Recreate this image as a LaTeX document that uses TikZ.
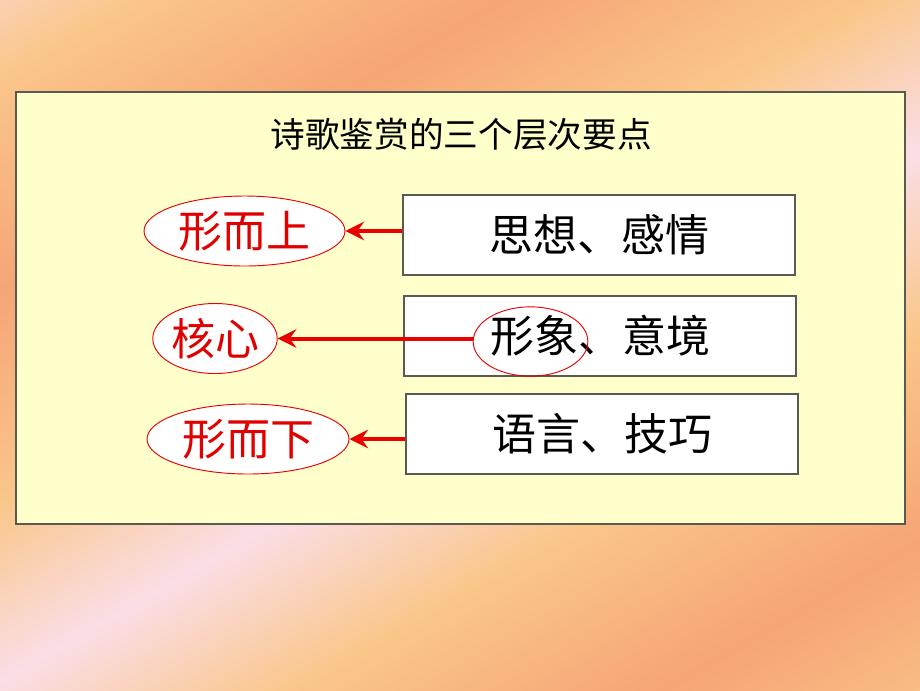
\documentclass[tikz,border=0pt]{standalone}
\usepackage{fontspec}
\newfontfamily\cjk{Noto Sans CJK SC}
\usetikzlibrary{arrows.meta,shapes.geometric}
\definecolor{panelfill}{RGB}{255,255,204}
\definecolor{panelline}{RGB}{90,90,80}
\definecolor{redline}{RGB}{235,0,0}
\definecolor{redtext}{RGB}{225,0,0}
\definecolor{peach}{RGB}{246,165,118}
\definecolor{lorange}{RGB}{250,198,138}
\definecolor{pinkw}{RGB}{250,222,230}
\pgfdeclarehorizontalshading{bgshade}{100bp}{color(0bp)=(pinkw); color(12bp)=(lorange); color(24bp)=(peach); color(36bp)=(lorange); color(46bp)=(pinkw); color(56bp)=(lorange); color(68bp)=(peach); color(80bp)=(lorange); color(90bp)=(pinkw); color(100bp)=(lorange)}
\tikzset{
  levelbox/.style={draw=panelline, line width=0.9pt, fill=white, minimum width=294pt, minimum height=60pt, inner sep=0pt, font=\cjk\fontsize{33}{36}\selectfont},
  levelell/.style={ellipse, draw=redline, line width=0.7pt, fill=white, inner sep=0pt, text=redtext, font=\cjk\fontsize{33}{36}\selectfont},
  ringell/.style={ellipse, draw=redline, line width=0.7pt, inner sep=0pt},
  redarrow/.style={draw=redline, line width=3pt, -{Stealth[length=14pt,width=14pt,inset=5pt]}},
  titletext/.style={font=\cjk\fontsize{26}{30}\selectfont, inner sep=0pt}
}
\begin{document}
\begin{tikzpicture}[x=0.75pt,y=-0.75pt]
\useasboundingbox (0,0) rectangle (920,690);
\shade[shading=bgshade, shading angle=120] (0,0) rectangle (920,690);
\node[draw=panelline, line width=0.9pt, fill=panelfill, minimum width=666.75pt, minimum height=324pt, inner sep=0pt] (panel) at (460.5,308) {};
\node[titletext] (title) at (461,134) {诗歌鉴赏的三个层次要点};
\node[levelbox] (b1) at (599,235) {\raisebox{-3pt}{思想、感情}};
\node[levelbox] (b2) at (600,336) {\raisebox{-3pt}{形象、意境}};
\node[levelbox] (b3) at (602,434) {\raisebox{-3pt}{语言、技巧}};
\node[levelell, minimum width=150.75pt, minimum height=52.5pt] (e1) at (244.5,231) {形而上};
\node[levelell, minimum width=93pt, minimum height=52.5pt] (e2) at (215,338.5) {核心};
\node[levelell, minimum width=151.5pt, minimum height=52.5pt] (e3) at (248,439) {形而下};
\node[ringell, minimum width=86pt, minimum height=52pt] (r2) at (530.5,341.5) {};
\draw[redarrow] (b1.west |- e1.east) -- (e1.east);
\draw[redarrow] (r2.west |- e2.east) -- (e2.east);
\draw[redarrow] (b3.west |- e3.east) -- (e3.east);
\end{tikzpicture}
\end{document}
